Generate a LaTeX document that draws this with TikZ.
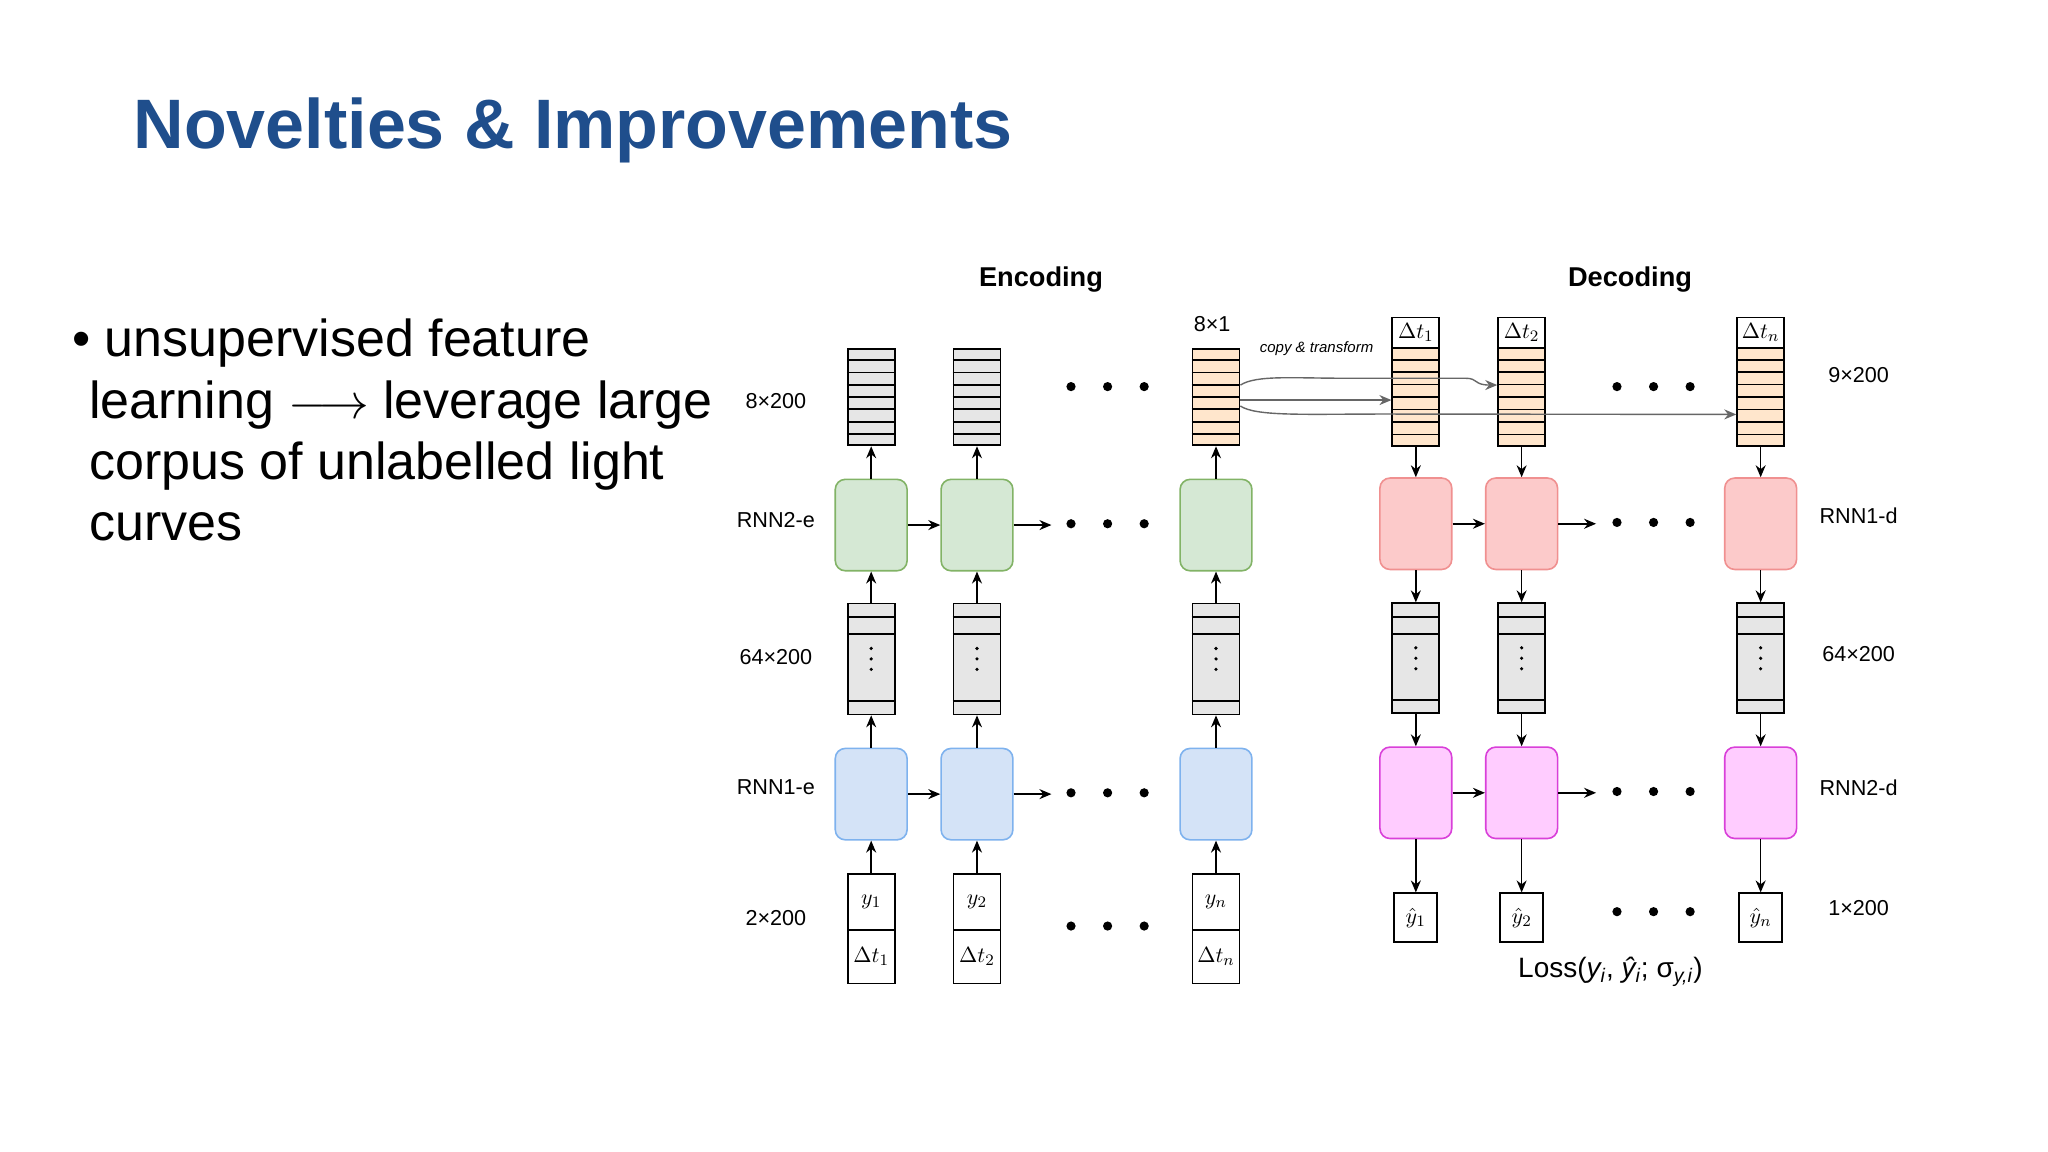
\documentclass[tikz,border=0pt]{standalone}
\usepackage{fontspec}
\setmainfont{Liberation Sans}
\usetikzlibrary{arrows.meta,calc}
\definecolor{titleblue}{HTML}{1F4E8C}
\definecolor{gfill}{HTML}{D5E8D4}\definecolor{gdraw}{HTML}{82B366}
\definecolor{bfill}{HTML}{D4E3F7}\definecolor{bdraw}{HTML}{7EB2EE}
\definecolor{pfill}{HTML}{FCCACA}\definecolor{pdraw}{HTML}{F09090}
\definecolor{mfill}{HTML}{FFCCFF}\definecolor{mdraw}{HTML}{D940D9}
\definecolor{ofill}{HTML}{FFE6CC}\definecolor{cgrey}{HTML}{E6E6E6}
\definecolor{carrc}{HTML}{666666}
\begin{document}
\begin{tikzpicture}[x=0.653pt,y=-0.653pt,
 cell/.style={draw,line width=0.9pt,minimum width=23.5pt,inner sep=0pt,font=\fontsize{11}{12}\selectfont\itshape},
 rnn/.style={draw,rounded corners=5pt,minimum width=35.9pt,minimum height=45.7pt,line width=0.8pt},
 arr/.style={-{Stealth[length=6pt,width=5pt]},line width=0.8pt},
 carr/.style={-{Stealth[length=6pt,width=5pt]},line width=0.7pt,draw=carrc},
 lab/.style={font=\fontsize{10.8}{12}\selectfont},
 hd/.style={font=\fontsize{13.6}{15}\selectfont\bfseries},
 bigdot/.style={circle,fill=black,inner sep=0pt,minimum size=4.6pt}]
\useasboundingbox[fill=white] (0,0) rectangle (1568,882);
% title and bullet
\node[anchor=west,inner sep=0pt,text=titleblue,font=\fontsize{35}{40}\selectfont\bfseries] (title) at (102,100) {Novelties \& Improvements};
\node[anchor=north west,inner sep=0pt,align=left,font=\fontsize{26}{30.7}\selectfont] (bullet) at (55,244)
 {\textbullet{} unsupervised feature\\\hspace*{8.5pt}learning $\longrightarrow$ leverage large\\\hspace*{8.5pt}corpus of unlabelled light\\\hspace*{8.5pt}curves};
% headings and labels
\node[hd] (henc) at (797,214) {Encoding};
\node[hd] (hdec) at (1248,214) {Decoding};
\node[lab] (l1) at (594,307) {8×200};
\node[lab] (l2) at (594,398) {RNN2-e};
\node[lab] (l3) at (594,503) {64×200};
\node[lab] (l4) at (594,603) {RNN1-e};
\node[lab] (l5) at (594,703) {2×200};
\node[lab] (r1) at (1423,287) {9×200};
\node[lab] (r2) at (1423,395) {RNN1-d};
\node[lab] (r3) at (1423,501) {64×200};
\node[lab] (r4) at (1423,603) {RNN2-d};
\node[lab] (r5) at (1423,695) {1×200};
\node[lab] (l81) at (928,248) {8×1};
\node[font=\fontsize{7.5}{8}\selectfont\itshape] (ct) at (1008,267) {copy \& transform};
% ---------- encoder ----------
\foreach \x/\i/\s/\f in {667/1/1/cgrey,748/2/2/cgrey,931/3/n/ofill}{
 \node[cell,fill=\f,minimum height=48.3pt] (et\i) at (\x,304) {};
 \foreach \k in {1,...,7}{\draw[line width=0.9pt] ($(et\i.north west)!\k/8!(et\i.south west)$) -- ($(et\i.north east)!\k/8!(et\i.south east)$);}
 \node[rnn,fill=gfill,draw=gdraw] (eg\i) at (\x,402) {};
 \node[cell,fill=cgrey,minimum height=55.5pt] (em\i) at (\x,504.5) {};
 \foreach \k in {0.13,0.28,0.87}{\draw[line width=0.9pt] ($(em\i.north west)!\k!(em\i.south west)$) -- ($(em\i.north east)!\k!(em\i.south east)$);}
 \foreach \d in {-8,0,8}{\fill (\x,504.5+\d) circle (0.9pt);}
 \node[rnn,fill=bfill,draw=bdraw] (eb\i) at (\x,608) {};
 \node[cell,minimum height=28pt] (ey\i) at (\x,690.5) {$y_{\s}$};
 \node[cell,minimum height=26.8pt] (ed\i) at (\x,732.5) {$\Delta t_{\s}$};
 \draw[arr] (ey\i) -- (eb\i);
 \draw[arr] (eb\i) -- (em\i);
 \draw[arr] (em\i) -- (eg\i);
 \draw[arr] (eg\i) -- (et\i);
}
\draw[arr] (eg1) -- (eg2);
\draw[arr] (eb1) -- (eb2);
\coordinate (eg2x) at (805,402);\coordinate (eb2x) at (805,608);
\draw[arr] (eg2) -- (eg2x);
\draw[arr] (eb2) -- (eb2x);
\foreach \y/\n in {296/a,401/b,607/c,709/d}{\foreach \x/\m in {820/1,848/2,876/3}{\node[bigdot] (ed\n\m) at (\x,\y) {};}}
% ---------- decoder ----------
\foreach \x/\i/\s in {1084/1/1,1165/2/2,1348/3/n}{
 \node[cell,minimum height=15pt] (dh\i) at (\x,254.5) {$\Delta t_{\s}$};
 \node[cell,fill=ofill,minimum height=49pt] (dt\i) at (\x,304) {};
 \foreach \k in {1,...,7}{\draw[line width=0.9pt] ($(dt\i.north west)!\k/8!(dt\i.south west)$) -- ($(dt\i.north east)!\k/8!(dt\i.south east)$);}
 \node[rnn,fill=pfill,draw=pdraw] (dp\i) at (\x,401) {};
 \node[cell,fill=cgrey,minimum height=55pt] (dm\i) at (\x,504) {};
 \foreach \k in {0.13,0.28,0.87}{\draw[line width=0.9pt] ($(dm\i.north west)!\k!(dm\i.south west)$) -- ($(dm\i.north east)!\k!(dm\i.south east)$);}
 \foreach \d in {-8,0,8}{\fill (\x,504+\d) circle (0.9pt);}
 \node[rnn,fill=mfill,draw=mdraw] (dq\i) at (\x,607) {};
 \node[cell,minimum width=21.5pt,minimum height=24.2pt] (do\i) at (\x,702.5) {$\hat y_{\s}$};
 \draw[arr] (dt\i) -- (dp\i);
 \draw[arr] (dp\i) -- (dm\i);
 \draw[arr] (dm\i) -- (dq\i);
 \draw[arr] (dq\i) -- (do\i);
}
\draw[arr] (dp1) -- (dp2);
\draw[arr] (dq1) -- (dq2);
\coordinate (dp2x) at (1222,401);\coordinate (dq2x) at (1222,607);
\draw[arr] (dp2) -- (dp2x);
\draw[arr] (dq2) -- (dq2x);
\foreach \y/\n in {296/a,400/b,606/c,698/d}{\foreach \x/\m in {1238/1,1266/2,1294/3}{\node[bigdot] (dd\n\m) at (\x,\y) {};}}
\node[font=\fontsize{14}{16}\selectfont] (loss) at (1233,744) {Loss(\textit{y\textsubscript{i}}, \textit{ŷ\textsubscript{i}}; σ\textsubscript{\textit{y,i}})};
% copy & transform arrows
\coordinate (c1) at (et3.east|-0,294.8);
\coordinate (c2) at (et3.east|-0,306.3);
\coordinate (c3) at (et3.east|-0,310.9);
\draw[carr] (c1) .. controls (962,287) and (990,289.6) .. (1030,289.6) -- (1122,289.6) .. controls (1132,289.6) and (1128,294.8) .. (dt2.west|-0,294.8);
\draw[carr] (c2) -- (dt1.west|-0,306.3);
\draw[carr] (c3) .. controls (962,319) and (1000,317) .. (1060,317) -- (dt3.west|-0,317.3);
\end{tikzpicture}
\end{document}
